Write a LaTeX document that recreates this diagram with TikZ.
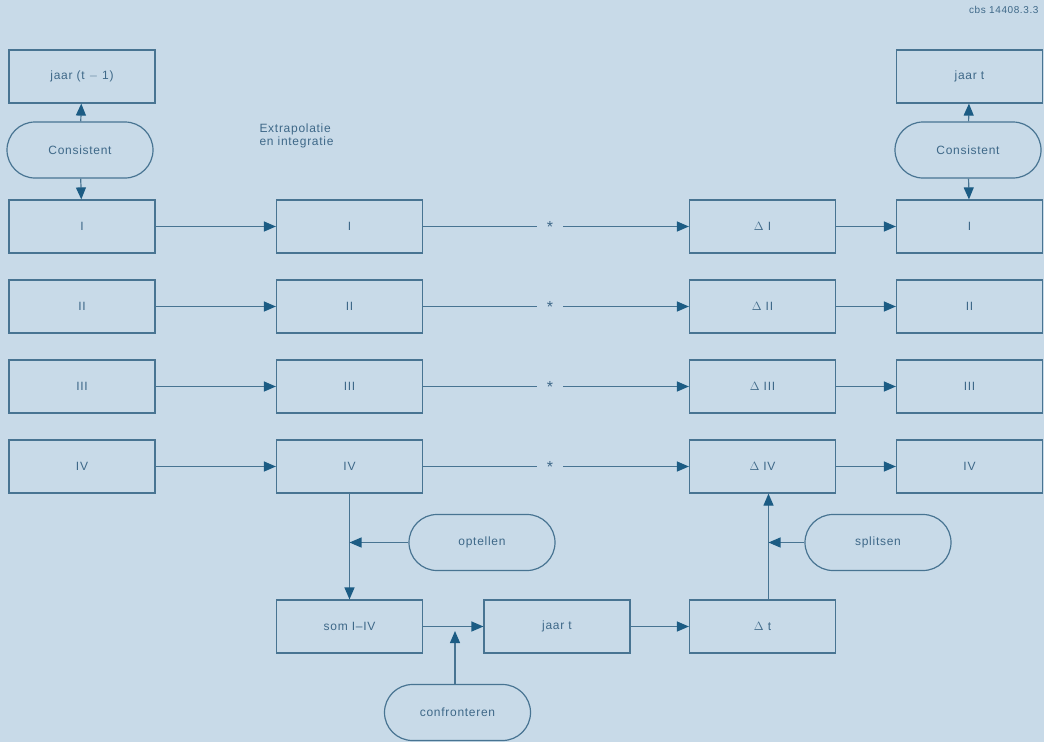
\documentclass[tikz,border=0pt]{standalone}
\usepackage{fontspec}
\setmainfont{Liberation Sans}[LetterSpace=6]
\usepackage{tikz}
\usetikzlibrary{arrows.meta, shapes, positioning}
\usepackage{xcolor}
\definecolor{paleblue}{RGB}{200,218,232}
\definecolor{lineblue}{RGB}{72,116,146}
\definecolor{tipblue}{RGB}{28,92,132}
\definecolor{textblue}{RGB}{62,104,136}
\tikzset{stepbox/.style={rectangle, draw=lineblue, line width=1.2pt, minimum width=146pt, minimum height=53pt, inner sep=0pt, text=textblue, font=\fontsize{12}{14}\selectfont},
roundbox/.style={rounded rectangle, draw=lineblue, line width=1.2pt, minimum width=146pt, minimum height=56pt, inner sep=0pt, text=textblue, font=\fontsize{12}{14}\selectfont},
flow/.style={draw=lineblue, line width=1.2pt, -{Triangle[length=12pt, width=10pt, color=tipblue]}},
plain/.style={draw=lineblue, line width=1.2pt}}

\begin{document}
\begin{tikzpicture}[x=1pt, y=-1pt,
                star/.style={minimum width=26pt, inner sep=0pt, text=textblue, font=\fontsize{16}{16}\selectfont}
            ]
                \fill[paleblue] (0, 0) rectangle (1044, 742);
                \useasboundingbox (0, 0) rectangle (1044, 742);

                % Titles
                \node[anchor=north east, text=textblue, font=\fontsize{10}{12}\selectfont] (ref) at (1042, 3) {cbs 14408.3.3};
                \node[anchor=north west, align=left, text=textblue, font=\fontsize{12}{13}\selectfont] (title) at (256, 120) {Extrapolatie\\en integratie};

                % Column t-1
                \node[stepbox] (jaarA) at (82, 76.5) {jaar (t $-$ 1)};
                \node[roundbox] (consA) at (80, 150) {Consistent};
                \node[stepbox] (a1) at (82, 226.5) {I};
                \node[stepbox] (a2) at (82, 306.5) {II};
                \node[stepbox] (a3) at (82, 386.5) {III};
                \node[stepbox] (a4) at (82, 466.5) {IV};

                % Column extrapolation
                \node[stepbox] (b1) at (349.5, 226.5) {I};
                \node[stepbox] (b2) at (349.5, 306.5) {II};
                \node[stepbox] (b3) at (349.5, 386.5) {III};
                \node[stepbox] (b4) at (349.5, 466.5) {IV};

                % Column delta
                \node[stepbox] (d1) at (762.5, 226.5) {$\Delta$ I};
                \node[stepbox] (d2) at (762.5, 306.5) {$\Delta$ II};
                \node[stepbox] (d3) at (762.5, 386.5) {$\Delta$ III};
                \node[stepbox] (d4) at (762.5, 466.5) {$\Delta$ IV};

                % Column t
                \node[stepbox] (jaarB) at (969.5, 76.5) {jaar t};
                \node[roundbox] (consB) at (968, 150) {Consistent};
                \node[stepbox] (c1) at (969.5, 226.5) {I};
                \node[stepbox] (c2) at (969.5, 306.5) {II};
                \node[stepbox] (c3) at (969.5, 386.5) {III};
                \node[stepbox] (c4) at (969.5, 466.5) {IV};

                % Stars
                \foreach \i/\y in {1/226.5, 2/306.5, 3/386.5, 4/466.5} {
\node[star] (s\i) at (550, \y) {*};
}

                % Bottom row
                \node[stepbox] (som) at (349.5, 626.5) {som I--IV};
                \node[stepbox] (jaarC) at (557, 626.5) {jaar t};
                \node[stepbox] (dt) at (762.5, 626.5) {$\Delta$ t};
                \node[roundbox] (optel) at (482, 542.5) {optellen};
                \node[roundbox] (split) at (878, 542.5) {splitsen};
                \node[roundbox] (confr) at (457.5, 712.5) {confronteren};

                % Rows
                \foreach \i in {1,2,3,4} {
\draw[flow] (a\i) -- (b\i);
\draw[plain] (b\i) -- (s\i);
\draw[flow] (s\i) -- (d\i);
\draw[flow] (d\i) -- (c\i);
}

                % Consistent checks
                \draw[flow] (consA) -- (jaarA);
                \draw[flow] (consA) -- (a1);
                \draw[flow] (consB) -- (jaarB);
                \draw[flow] (consB) -- (c1);

                % Adding up and splitting
                \coordinate (addin) at (b4.south |- optel.west);
                \draw[flow] (b4.south) -- (som.north);
                \draw[flow] (optel.west) -- (addin);
                \coordinate (dtup) at ([xshift=6pt]dt.north);
                \coordinate (d4low) at ([xshift=6pt]d4.south);
                \coordinate (splitin) at (dtup |- split.west);
                \draw[flow] (dtup) -- (d4low);
                \draw[flow] (split.west) -- (splitin);
                \draw[flow] (som) -- (jaarC);
                \draw[flow] (jaarC) -- (dt);
                \coordinate (confrtop) at (confr.north -| 455, 0);
                \coordinate (confrin) at (455, 631);
                \draw[flow] (confrtop) -- (confrin);
            \end{tikzpicture}
\end{document}
